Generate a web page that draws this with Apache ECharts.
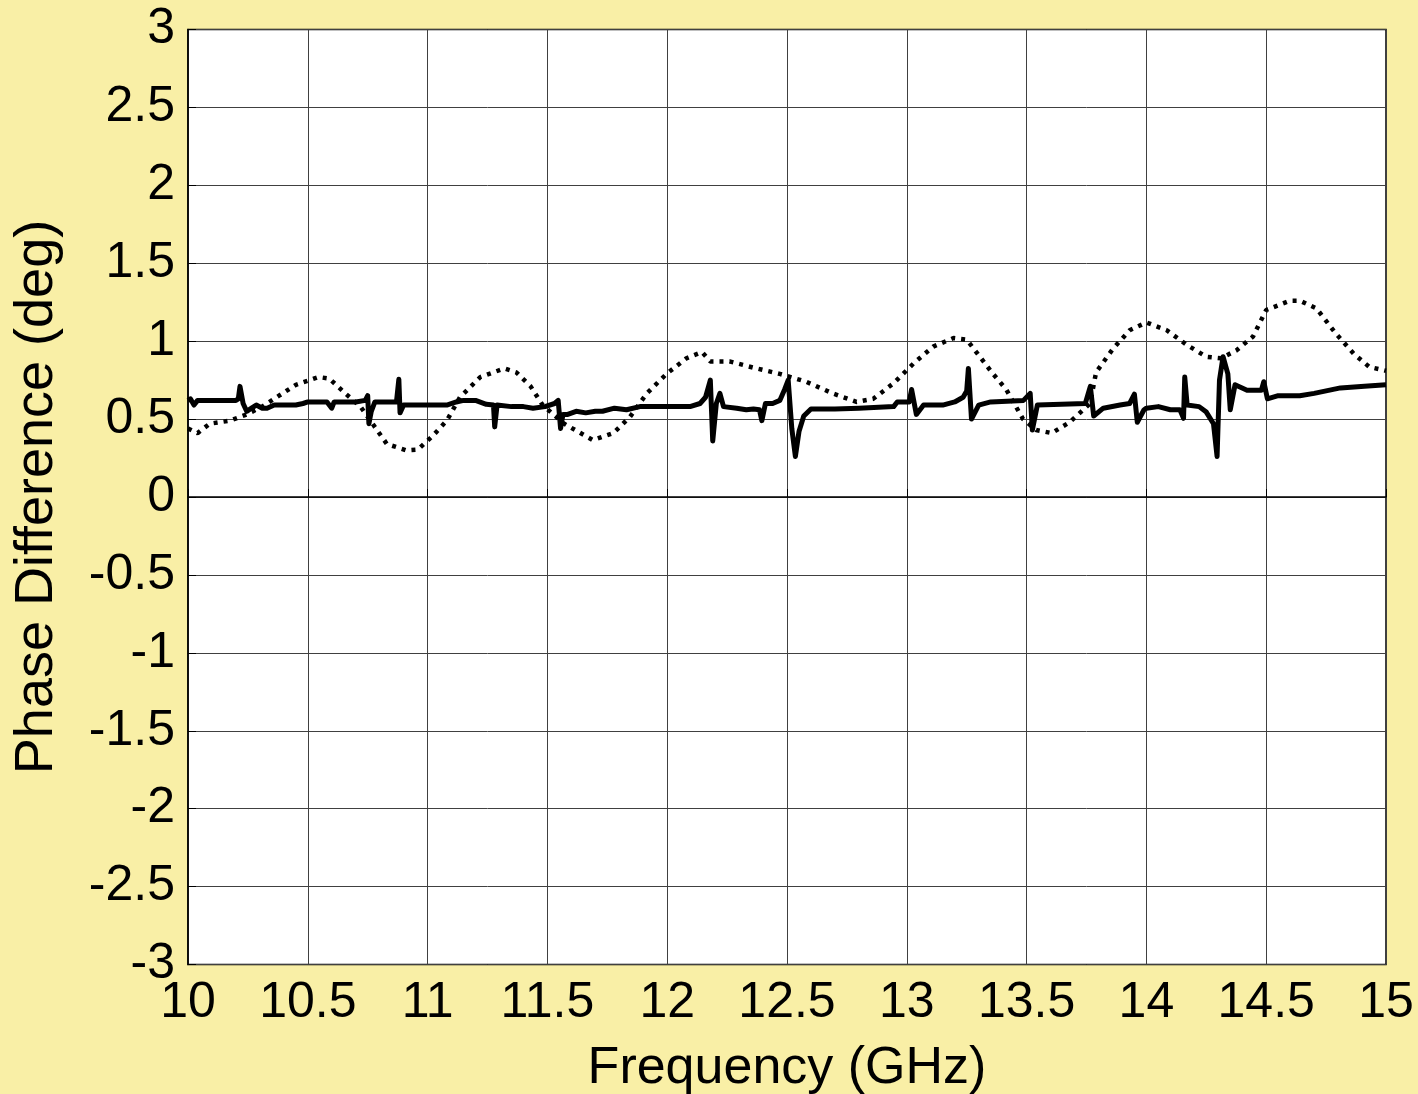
<!DOCTYPE html>
<html>
<head>
<meta charset="utf-8">
<script src="https://cdn.jsdelivr.net/npm/echarts@6/dist/echarts.min.js"></script>
<style>
html,body{margin:0;padding:0;background:#F9EFA6;}
#c{width:1418px;height:1094px;}
</style>
</head>
<body>
<div id="c"></div>
<script>
// Dotted (smooth) curve
var dotFreq = [10.0, 10.04, 10.09, 10.175, 10.245, 10.31, 10.38, 10.45, 10.545, 10.59, 10.66, 10.72, 10.775, 10.83, 10.91, 10.96, 11.02, 11.08, 11.135, 11.22, 11.32, 11.37, 11.43, 11.48, 11.57, 11.69, 11.775, 11.845, 11.915, 11.997, 12.08, 12.145, 12.18, 12.26, 12.36, 12.47, 12.58, 12.69, 12.79, 12.86, 12.945, 13.03, 13.11, 13.195, 13.25, 13.305, 13.36, 13.415, 13.485, 13.54, 13.605, 13.68, 13.765, 13.79, 13.86, 13.93, 14.0, 14.085, 14.17, 14.25, 14.31, 14.375, 14.445, 14.5, 14.6, 14.64, 14.71, 14.79, 14.865, 14.93, 15.0];
var dotPhase = [0.44, 0.41, 0.47, 0.49, 0.53, 0.58, 0.65, 0.72, 0.77, 0.76, 0.66, 0.58, 0.46, 0.34, 0.30, 0.305, 0.39, 0.49, 0.64, 0.77, 0.825, 0.80, 0.71, 0.59, 0.47, 0.365, 0.41, 0.515, 0.665, 0.79, 0.89, 0.93, 0.87, 0.87, 0.83, 0.79, 0.74, 0.665, 0.61, 0.63, 0.73, 0.86, 0.965, 1.02, 1.01, 0.90, 0.79, 0.69, 0.50, 0.43, 0.41, 0.48, 0.60, 0.80, 0.95, 1.07, 1.12, 1.07, 0.975, 0.90, 0.89, 0.94, 1.03, 1.20, 1.26, 1.26, 1.21, 1.05, 0.92, 0.835, 0.81];

// Solid (measured) curve
var solidFreq = [10.0, 10.01, 10.025, 10.04, 10.2, 10.21, 10.217, 10.23, 10.245, 10.265, 10.285, 10.31, 10.33, 10.36, 10.45, 10.48, 10.5, 10.58, 10.6, 10.61, 10.7, 10.74, 10.75, 10.755, 10.765, 10.78, 10.87, 10.88, 10.885, 10.9, 10.91, 11.08, 11.12, 11.15, 11.2, 11.245, 11.275, 11.28, 11.29, 11.35, 11.4, 11.44, 11.49, 11.53, 11.545, 11.555, 11.565, 11.585, 11.62, 11.66, 11.7, 11.73, 11.78, 11.83, 11.886, 12.095, 12.137, 12.16, 12.18, 12.19, 12.205, 12.22, 12.235, 12.29, 12.33, 12.36, 12.385, 12.395, 12.41, 12.44, 12.47, 12.49, 12.505, 12.52, 12.535, 12.55, 12.57, 12.6, 12.7, 12.8, 12.945, 12.96, 13.01, 13.02, 13.04, 13.07, 13.15, 13.2, 13.235, 13.25, 13.257, 13.27, 13.3, 13.35, 13.487, 13.515, 13.524, 13.545, 13.745, 13.766, 13.78, 13.82, 13.89, 13.93, 13.95, 13.962, 13.99, 14.0, 14.05, 14.1, 14.14, 14.155, 14.16, 14.17, 14.22, 14.25, 14.28, 14.295, 14.305, 14.32, 14.34, 14.35, 14.37, 14.42, 14.48, 14.49, 14.505, 14.55, 14.64, 14.70, 14.81, 14.91, 15.0];
var solidPhase = [0.62, 0.63, 0.59, 0.62, 0.62, 0.63, 0.71, 0.60, 0.55, 0.57, 0.59, 0.57, 0.57, 0.59, 0.59, 0.60, 0.61, 0.61, 0.57, 0.61, 0.61, 0.62, 0.65, 0.47, 0.55, 0.61, 0.61, 0.755, 0.54, 0.59, 0.59, 0.59, 0.61, 0.62, 0.62, 0.595, 0.59, 0.45, 0.59, 0.58, 0.58, 0.57, 0.58, 0.60, 0.62, 0.44, 0.53, 0.53, 0.55, 0.54, 0.55, 0.55, 0.57, 0.56, 0.58, 0.58, 0.60, 0.64, 0.75, 0.36, 0.60, 0.665, 0.58, 0.57, 0.56, 0.565, 0.56, 0.49, 0.60, 0.60, 0.62, 0.69, 0.75, 0.44, 0.26, 0.42, 0.52, 0.565, 0.565, 0.57, 0.58, 0.61, 0.61, 0.69, 0.53, 0.59, 0.59, 0.61, 0.64, 0.68, 0.825, 0.50, 0.59, 0.61, 0.62, 0.665, 0.43, 0.59, 0.60, 0.71, 0.52, 0.57, 0.59, 0.60, 0.66, 0.48, 0.56, 0.57, 0.58, 0.56, 0.56, 0.505, 0.77, 0.59, 0.58, 0.545, 0.47, 0.26, 0.75, 0.90, 0.79, 0.56, 0.72, 0.685, 0.685, 0.74, 0.63, 0.65, 0.65, 0.665, 0.70, 0.71, 0.72];

var xTitle = 'Frequency (GHz)';
var yTitle = 'Phase Difference (deg)';

function pairs(xs, ys){ return xs.map(function(x,i){ return [x, ys[i]]; }); }

var font = '"Liberation Sans", Arial, Helvetica, sans-serif';
var chart = echarts.init(document.getElementById('c'), null, {renderer:'canvas'});
chart.setOption({
  backgroundColor: '#F9EFA6',
  animation: false,
  grid: {left:188, top:29.5, right:32, bottom:129.5, containLabel:false, outerBoundsMode:'none',
         show:true, backgroundColor:'#ffffff', borderColor:'#000000', borderWidth:1.5},
  xAxis: {
    type:'value', min:10, max:15, interval:0.5,
    name: xTitle, nameLocation:'middle', nameGap:78,
    nameTextStyle:{fontFamily:font, fontSize:52, color:'#000'},
    axisLine:{show:true, lineStyle:{color:'#000', width:1.5}},
    axisTick:{show:true, inside:true, length:8, lineStyle:{color:'#000'}},
    axisLabel:{fontFamily:font, fontSize:50, color:'#000', margin:14},
    splitLine:{show:true, lineStyle:{color:'#404040', width:1}}
  },
  yAxis: {
    type:'value', min:-3, max:3, interval:0.5,
    name: yTitle, nameLocation:'middle', nameGap:124,
    nameTextStyle:{fontFamily:font, fontSize:54, color:'#000'},
    axisLine:{show:true, lineStyle:{color:'#000', width:1.5}},
    axisTick:{show:true, inside:true, length:8, lineStyle:{color:'#000'}},
    axisLabel:{fontFamily:font, fontSize:50, color:'#000', margin:13},
    splitLine:{show:true, lineStyle:{color:'#404040', width:1}}
  },
  series: [
    {type:'line', data: pairs(dotFreq, dotPhase), showSymbol:false, smooth:false,
     lineStyle:{color:'#000', width:4.5, type:[4,6], cap:'butt'}, z:2},
    {type:'line', data: pairs(solidFreq, solidPhase), showSymbol:false, smooth:false,
     lineStyle:{color:'#000', width:5, join:'round'}, z:3}
  ]
});
</script>
</body>
</html>
